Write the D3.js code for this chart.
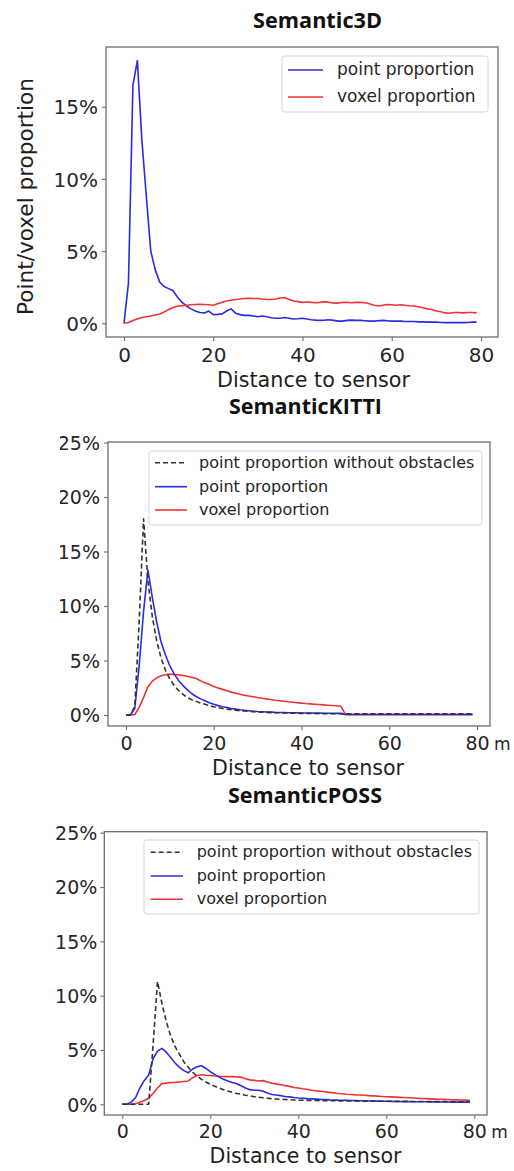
<!DOCTYPE html>
<html>
<head>
<meta charset="utf-8">
<script src="https://cdn.jsdelivr.net/npm/d3@7"></script>
<style>
  html, body { margin: 0; padding: 0; background: #fff; }
  svg { display: block; }
</style>
</head>
<body>
<svg id="chart" width="514" height="1171"></svg>
<script>
// Distance bins (m) shared by all three datasets
const distance = [
  0,1,2,3,4,5,6,7,8,9,10,11,12,13,14,15,16,17,18,19,
  20,21,22,23,24,25,26,27,28,29,30,31,32,33,34,35,36,37,38,39,
  40,41,42,43,44,45,46,47,48,49,50,51,52,53,54,55,56,57,58,59,
  60,61,62,63,64,65,66,67,68,69,70,71,72,73,74,75,76,77,78,79
];

const xTickValues = [0, 20, 40, 60, 80];
const yTicksSemantic3D = [0, 5, 10, 15];
const yTicksLidar = [0, 5, 10, 15, 20, 25];

const titles = ["Semantic3D", "SemanticKITTI", "SemanticPOSS"];
const legendLabels = ["point proportion without obstacles", "point proportion", "voxel proportion"];
const xAxisLabel = "Distance to sensor";
const yAxisLabel = "Point/voxel proportion";
const unitLabel = "m";

// Semantic3D (%)
const semantic3dPoint = [
  0,2.8,16.5,18.2,12.7,8.8,5.0,3.7,2.85,2.55,2.4,2.25,1.8,1.45,1.2,1.0,0.85,0.75,0.72,0.85,
  0.6,0.62,0.65,0.85,1.0,0.7,0.6,0.55,0.55,0.5,0.45,0.5,0.45,0.38,0.35,0.35,0.4,0.35,0.3,0.32,
  0.35,0.3,0.25,0.22,0.2,0.22,0.25,0.2,0.15,0.15,0.2,0.22,0.2,0.2,0.18,0.15,0.15,0.18,0.2,0.18,
  0.15,0.15,0.15,0.12,0.12,0.12,0.1,0.1,0.08,0.08,0.08,0.06,0.05,0.05,0.05,0.05,0.05,0.06,0.08,0.08
];
const semantic3dVoxel = [
  0,0.05,0.2,0.3,0.4,0.45,0.5,0.58,0.65,0.78,0.95,1.1,1.18,1.22,1.25,1.28,1.3,1.32,1.3,1.28,
  1.25,1.35,1.45,1.55,1.6,1.65,1.68,1.72,1.73,1.72,1.72,1.68,1.65,1.65,1.68,1.75,1.78,1.65,1.55,1.5,
  1.45,1.48,1.45,1.42,1.45,1.5,1.45,1.4,1.4,1.45,1.45,1.42,1.45,1.45,1.42,1.35,1.25,1.2,1.25,1.3,
  1.28,1.25,1.28,1.25,1.22,1.2,1.15,1.08,1.0,0.95,0.85,0.8,0.72,0.7,0.75,0.75,0.72,0.75,0.75,0.72
];

// SemanticKITTI (%)
const kittiNoObstacle = [
  0,0,0.8,8.5,18,12.3,9.0,6.8,5.2,4.1,3.3,2.7,2.25,1.9,1.6,1.4,1.25,1.1,0.98,0.85,
  0.75,0.68,0.6,0.54,0.48,0.44,0.4,0.36,0.33,0.3,0.28,0.26,0.24,0.22,0.21,0.2,0.19,0.18,0.17,0.16,
  0.15,0.15,0.14,0.14,0.13,0.13,0.12,0.12,0.12,0.12,0.1,0.1,0.1,0.1,0.1,0.1,0.1,0.1,0.1,0.1,
  0.1,0.1,0.1,0.1,0.1,0.1,0.1,0.1,0.1,0.1,0.1,0.1,0.1,0.1,0.1,0.1,0.1,0.1,0.1,0.1
];
const kittiPoint = [
  0,0,0.6,4.5,9.5,13.3,10.8,8.5,6.7,5.5,4.5,3.75,3.15,2.7,2.3,1.95,1.7,1.48,1.3,1.12,
  0.98,0.86,0.76,0.68,0.6,0.54,0.48,0.43,0.39,0.35,0.32,0.3,0.28,0.26,0.24,0.23,0.22,0.21,0.2,0.2,
  0.19,0.18,0.18,0.17,0.17,0.16,0.16,0.15,0.15,0.15,0.05,0.05,0.05,0.05,0.05,0.05,0.05,0.05,0.05,0.05,
  0.05,0.05,0.05,0.05,0.05,0.05,0.05,0.05,0.05,0.05,0.05,0.05,0.05,0.05,0.05,0.05,0.05,0.05,0.05,0.05
];
const kittiVoxel = [
  0,0,0.05,0.7,1.6,2.6,3.1,3.4,3.6,3.7,3.75,3.72,3.68,3.62,3.55,3.45,3.35,3.15,2.95,2.8,
  2.62,2.48,2.35,2.22,2.1,2.0,1.9,1.82,1.74,1.67,1.6,1.54,1.48,1.42,1.36,1.31,1.26,1.21,1.17,1.13,
  1.09,1.05,1.02,0.99,0.96,0.93,0.9,0.87,0.85,0.8,0.05,0.03,0.03,0.03,0.03,0.03,0.03,0.03,0.03,0.03,
  0.03,0.03,0.03,0.03,0.03,0.03,0.03,0.03,0.03,0.03,0.03,0.03,0.03,0.03,0.03,0.03,0.03,0.03,0.03,0.03
];

// SemanticPOSS (%)
const possNoObstacle = [
  0,0,0,0,0,0,0,5.5,11.3,9.3,7.6,6.3,5.3,4.6,3.9,3.4,2.95,2.6,2.3,2.05,
  1.85,1.65,1.5,1.35,1.22,1.1,1.0,0.92,0.84,0.77,0.7,0.65,0.6,0.56,0.52,0.49,0.46,0.44,0.42,0.4,
  0.38,0.37,0.36,0.35,0.35,0.34,0.33,0.33,0.32,0.32,0.31,0.31,0.3,0.3,0.3,0.29,0.29,0.29,0.28,0.28,
  0.28,0.28,0.27,0.27,0.27,0.27,0.26,0.26,0.26,0.26,0.25,0.25,0.25,0.25,0.25,0.24,0.24,0.24,0.24,0.24
];
const possPoint = [
  0,0,0.2,0.6,1.5,2.2,2.7,4.2,4.9,5.15,4.8,4.3,3.8,3.4,3.1,2.9,3.25,3.45,3.55,3.3,
  3.0,2.75,2.5,2.3,2.15,2.0,1.9,1.7,1.5,1.35,1.3,1.3,1.2,1.05,0.9,0.85,0.8,0.72,0.68,0.62,
  0.58,0.55,0.52,0.5,0.48,0.45,0.43,0.41,0.4,0.38,0.37,0.36,0.35,0.34,0.33,0.32,0.31,0.3,0.29,0.28,
  0.28,0.27,0.26,0.26,0.25,0.25,0.24,0.24,0.23,0.23,0.22,0.22,0.22,0.21,0.21,0.2,0.2,0.2,0.2,0.2
];
const possVoxel = [
  0,0,0,0.05,0.2,0.35,0.55,1.0,1.5,1.9,1.95,2.0,2.0,2.05,2.1,2.15,2.45,2.65,2.72,2.68,
  2.65,2.6,2.58,2.56,2.55,2.55,2.52,2.5,2.35,2.25,2.2,2.15,2.18,2.05,1.95,1.88,1.8,1.72,1.65,1.55,
  1.5,1.43,1.38,1.3,1.25,1.2,1.15,1.1,1.05,1.0,0.97,0.93,0.9,0.87,0.85,0.83,0.8,0.78,0.75,0.72,
  0.7,0.68,0.66,0.64,0.62,0.6,0.58,0.56,0.54,0.52,0.5,0.48,0.46,0.45,0.44,0.42,0.41,0.4,0.38,0.36
];

const COLOR_POINT = "#2b2be6";
const COLOR_VOXEL = "#ec3434";
const COLOR_NOOBS = "#333333";
const FONT = "'DejaVu Sans', sans-serif";
const TITLE_FONT = "'Open Sans', 'Noto Sans', sans-serif";

const svg = d3.select("#chart");

// Shrink or grow a text node's font size so it spans the given width
function fitWidth(sel, width) {
  const node = sel.node();
  const fs = parseFloat(sel.attr("font-size"));
  const w = node.getComputedTextLength();
  if (w > 0) sel.attr("font-size", (fs * width / w).toFixed(2));
  return sel;
}

const panelDefs = [
  {
    title: titles[0], titleX: 317.5, titleY: 28, titleW: 129,
    frame: { l: 106, t: 47, r: 498, b: 337 },
    xRange: [124, 481], yRange: [323.3, 106.7], yDomain: [0, 15],
    yTicks: yTicksSemantic3D, tickFont: 20, xTickBase: 25, yTickGap: 8,
    series: [
      { values: semantic3dPoint, color: COLOR_POINT, dash: null, label: legendLabels[1] },
      { values: semantic3dVoxel, color: COLOR_VOXEL, dash: null, label: legendLabels[2] }
    ],
    legend: { l: 282, t: 56, r: 488, b: 112, rows: [70, 97], x0: 288, x1: 323, tx: 337, fs: 17 },
    xlabelX: 313.5, xlabelY: 387, xlabelW: 193,
    ylabel: { x: 33, y: 196.5, w: 237 },
    unit: false, clipLeft: null
  },
  {
    title: titles[1], titleX: 305.5, titleY: 414, titleW: 153,
    frame: { l: 108, t: 442, r: 490, b: 726 },
    xRange: [126, 477], yRange: [715, 442.5], yDomain: [0, 25],
    yTicks: yTicksLidar, tickFont: 19, xTickBase: 24, yTickGap: 8,
    series: [
      { values: kittiVoxel, color: COLOR_VOXEL, dash: null, label: legendLabels[2] },
      { values: kittiPoint, color: COLOR_POINT, dash: null, label: legendLabels[1] },
      { values: kittiNoObstacle, color: COLOR_NOOBS, dash: "5,3", label: legendLabels[0] }
    ],
    legendOrder: [2, 1, 0],
    legend: { l: 149, t: 451, r: 482, b: 525, rows: [462.7, 486.7, 510], x0: 155, x1: 187, tx: 199, fs: 16 },
    xlabelX: 308, xlabelY: 775, xlabelW: 192,
    ylabel: null, unit: true, clipLeft: 60
  },
  {
    title: titles[2], titleX: 305, titleY: 803, titleW: 154,
    frame: { l: 104.3, t: 831.7, r: 487, b: 1115 },
    xRange: [122.3, 474.3], yRange: [1104.3, 832.7], yDomain: [0, 25],
    yTicks: yTicksLidar, tickFont: 19, xTickBase: 23, yTickGap: 7,
    series: [
      { values: possVoxel, color: COLOR_VOXEL, dash: null, label: legendLabels[2] },
      { values: possPoint, color: COLOR_POINT, dash: null, label: legendLabels[1] },
      { values: possNoObstacle, color: COLOR_NOOBS, dash: "5,3", label: legendLabels[0] }
    ],
    legendOrder: [2, 1, 0],
    legend: { l: 144, t: 840, r: 479, b: 914, rows: [852.3, 876, 899.3], x0: 150.7, x1: 183, tx: 196.7, fs: 16 },
    xlabelX: 305.5, xlabelY: 1163, xlabelW: 192,
    ylabel: null, unit: true, clipLeft: null
  }
];

const defs = svg.append("defs");

panelDefs.forEach((p, i) => {
  const g = svg.append("g").attr("class", "panel");
  const f = p.frame;

  const x = d3.scaleLinear().domain([0, 80]).range(p.xRange);
  const y = d3.scaleLinear().domain(p.yDomain).range(p.yRange);

  // title
  const t = g.append("text")
    .attr("x", p.titleX).attr("y", p.titleY)
    .attr("text-anchor", "middle")
    .attr("font-family", TITLE_FONT).attr("font-weight", 700)
    .attr("font-size", 20).attr("fill", "#111")
    .text(p.title);
  fitWidth(t, p.titleW);

  // curves
  const line = d3.line()
    .x((d, k) => x(distance[k]))
    .y(d => y(d));
  p.series.forEach(s => {
    g.append("path")
      .datum(s.values)
      .attr("d", line)
      .attr("fill", "none")
      .attr("stroke", s.color)
      .attr("stroke-width", 1.6)
      .attr("stroke-linejoin", "round")
      .attr("stroke-dasharray", s.dash);
  });

  // frame
  g.append("rect")
    .attr("x", f.l).attr("y", f.t)
    .attr("width", f.r - f.l).attr("height", f.b - f.t)
    .attr("fill", "none").attr("stroke", "#6e6e6e").attr("stroke-width", 1.3);

  // axes
  let axisHost = g;
  if (p.clipLeft !== null) {
    const cid = "clip" + i;
    defs.append("clipPath").attr("id", cid)
      .append("rect").attr("x", p.clipLeft).attr("y", 0).attr("width", 514 - p.clipLeft).attr("height", 1171);
    axisHost = g.append("g").attr("clip-path", `url(#${cid})`);
  }

  const xAxis = axisHost.append("g")
    .attr("transform", `translate(0,${f.b})`)
    .call(d3.axisBottom(x).tickValues(xTickValues).tickSize(4).tickFormat(d3.format("d")));
  xAxis.select(".domain").remove();
  xAxis.selectAll("line").attr("stroke", "#6e6e6e").attr("stroke-width", 1.1);
  xAxis.selectAll("text")
    .attr("y", p.xTickBase).attr("dy", null)
    .attr("font-family", FONT).attr("font-size", p.tickFont).attr("fill", "#262626");

  const yAxis = axisHost.append("g")
    .attr("transform", `translate(${f.l},0)`)
    .call(d3.axisLeft(y).tickValues(p.yTicks).tickSize(4).tickFormat(d => d + "%"));
  yAxis.select(".domain").remove();
  yAxis.selectAll("line").attr("stroke", "#6e6e6e").attr("stroke-width", 1.1);
  yAxis.selectAll("text")
    .attr("x", -p.yTickGap).attr("dy", "0.36em")
    .attr("font-family", FONT).attr("font-size", p.tickFont).attr("fill", "#262626");

  if (p.unit) {
    g.append("text")
      .attr("x", x(80) + 17).attr("y", f.b + p.xTickBase)
      .attr("font-family", FONT).attr("font-size", 17).attr("fill", "#262626")
      .text(unitLabel);
  }

  // axis labels
  const xl = g.append("text")
    .attr("x", p.xlabelX).attr("y", p.xlabelY)
    .attr("text-anchor", "middle")
    .attr("font-family", FONT).attr("font-size", 20).attr("fill", "#1e1e1e")
    .text(xAxisLabel);
  fitWidth(xl, p.xlabelW);

  if (p.ylabel) {
    const yl = g.append("text")
      .attr("transform", `translate(${p.ylabel.x},${p.ylabel.y}) rotate(-90)`)
      .attr("text-anchor", "middle")
      .attr("font-family", FONT).attr("font-size", 20).attr("fill", "#1e1e1e")
      .text(yAxisLabel);
    fitWidth(yl, p.ylabel.w);
  }

  // legend
  const L = p.legend;
  g.append("rect")
    .attr("x", L.l).attr("y", L.t)
    .attr("width", L.r - L.l).attr("height", L.b - L.t)
    .attr("rx", 3)
    .attr("fill", "#fff").attr("fill-opacity", 0.85)
    .attr("stroke", "#d6d6d6").attr("stroke-width", 1);
  const order = p.legendOrder || p.series.map((_, k) => k);
  order.forEach((si, r) => {
    const s = p.series[si];
    g.append("line")
      .attr("x1", L.x0).attr("x2", L.x1)
      .attr("y1", L.rows[r]).attr("y2", L.rows[r])
      .attr("stroke", s.color).attr("stroke-width", 1.6)
      .attr("stroke-dasharray", s.dash);
    g.append("text")
      .attr("x", L.tx).attr("y", L.rows[r])
      .attr("dy", "0.32em")
      .attr("font-family", FONT).attr("font-size", L.fs).attr("fill", "#262626")
      .text(s.label);
  });
});
</script>
</body>
</html>
